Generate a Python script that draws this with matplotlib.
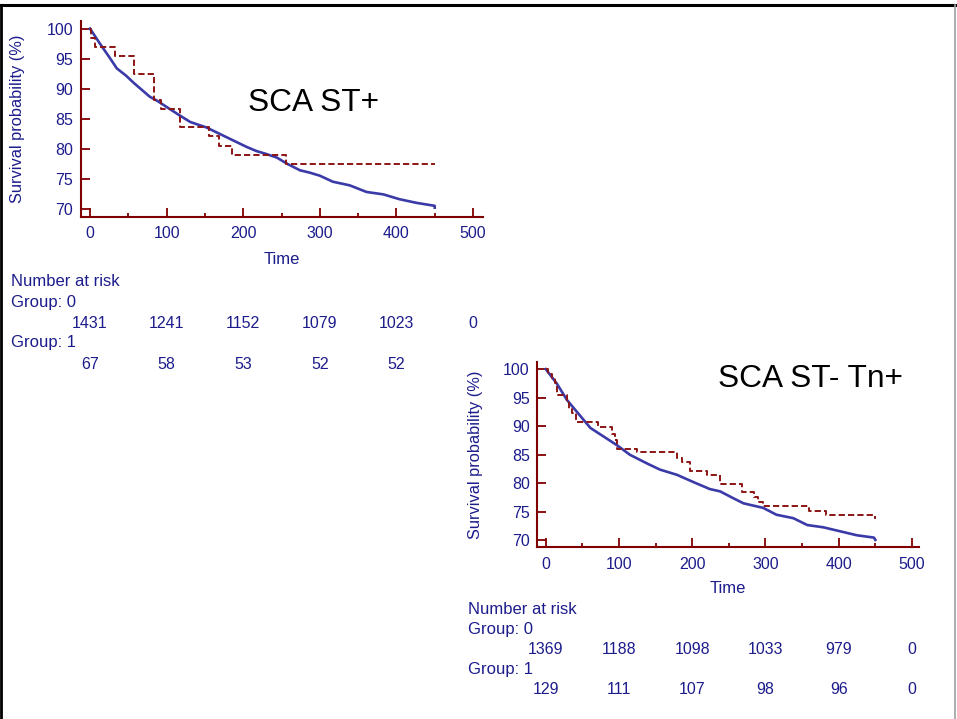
import matplotlib
matplotlib.use("Agg")
import matplotlib.pyplot as plt
import matplotlib.transforms as mtransforms
from matplotlib.lines import Line2D

plt.rcParams['font.family'] = ['Liberation Sans', 'DejaVu Sans']

# ---- SCA ST+ ----
st_title = "SCA ST+"
st_g0_t = [0, 13, 25, 35, 47, 57, 68, 78, 88, 100, 117, 131, 152, 165, 178, 191,
           204, 217, 230, 244, 257, 274, 287, 300, 317, 339, 361, 383, 404, 426, 450, 450]
st_g0_s = [100, 97.5, 95.3, 93.4, 92.2, 91.0, 89.8, 88.7, 88.0, 87.0, 85.6, 84.5, 83.6, 82.8, 82.0, 81.2,
           80.4, 79.7, 79.2, 78.6, 77.6, 76.5, 76.1, 75.6, 74.6, 74.0, 72.9, 72.5, 71.7, 71.1, 70.6, 70.3]
st_g1_t = [0, 2, 6.5, 33, 57, 83, 93, 117, 155, 168, 185, 256, 450]
st_g1_s = [100, 98.5, 97.0, 95.5, 92.5, 88.1, 86.6, 83.6, 82.1, 80.6, 79.1, 77.6, 77.6]
st_risk_t = [0, 100, 200, 300, 400, 500]
st_risk_g0 = [1431, 1241, 1152, 1079, 1023, 0]
st_risk_g1 = [67, 58, 53, 52, 52, None]

# ---- SCA ST- Tn+ ----
tn_title = "SCA ST- Tn+"
tn_g0_t = [0, 15, 29, 42, 61, 79, 97, 115, 138, 156, 179, 202, 224, 238, 256, 270,
           297, 315, 338, 357, 379, 402, 425, 448, 450]
tn_g0_s = [100, 97.5, 94.6, 92.6, 89.7, 88.2, 86.7, 85.0, 83.5, 82.4, 81.5, 80.2, 79.0, 78.6, 77.4, 76.5,
           75.7, 74.5, 73.9, 72.7, 72.3, 71.6, 70.9, 70.5, 70.1]
tn_g1_t = [0, 3, 8, 12, 16, 29, 32, 36, 41, 72, 91, 94, 97, 124, 179, 186, 197,
           220, 238, 268, 284, 290, 297, 360, 383, 449, 450]
tn_g1_s = [100, 99.2, 98.4, 97.6, 95.4, 94.0, 93.0, 92.3, 90.8, 89.9, 88.6, 87.6, 86.1, 85.5, 84.4, 83.8, 82.2,
           81.5, 79.9, 78.4, 77.6, 76.8, 76.1, 75.2, 74.5, 73.7, 73.7]
tn_risk_t = [0, 100, 200, 300, 400, 500]
tn_risk_g0 = [1369, 1188, 1098, 1033, 979, 0]
tn_risk_g1 = [129, 111, 107, 98, 96, 0]

W, H = 957, 719
AX_RED = '#800000'
NAVY = '#1c1c8c'
BLUE = '#3a3aa8'
DASH_RED = '#8b1414'

fig = plt.figure(figsize=(W / 100, H / 100), dpi=100)
fig.patch.set_facecolor('white')


def km_axes(rect, xlim, g0_t, g0_s, g1_t, g1_s, ylab_x):
    ax = fig.add_axes(rect)
    ax.plot(g0_t, g0_s, color=BLUE, lw=1.9, solid_joinstyle='round')
    ax.step(g1_t, g1_s, where='post', color=DASH_RED, lw=1.4, dashes=(3.2, 1.6))
    ax.set_xlim(*xlim)
    ax.set_ylim(68.8, 101.3)
    ax.set_xticks(range(0, 501, 100))
    ax.set_xticks(range(50, 500, 100), minor=True)
    ax.set_yticks(range(70, 101, 5))
    for s in ('top', 'right'):
        ax.spines[s].set_visible(False)
    for s in ('left', 'bottom'):
        ax.spines[s].set_color(AX_RED)
        ax.spines[s].set_linewidth(1.5)
    ax.tick_params(which='major', direction='in', length=6.5, width=1.3, color=AX_RED,
                   labelcolor=NAVY, labelsize=11.5)
    ax.tick_params(axis='x', which='major', pad=7)
    ax.tick_params(axis='y', which='major', pad=5.5)
    ax.tick_params(which='minor', direction='in', length=2.6, width=1.3, color=AX_RED)
    ax.set_xlabel('Time', color=NAVY, fontsize=12)
    ax.set_ylabel('Survival probability (%)', color=NAVY, fontsize=11.8)
    ax.xaxis.set_label_coords(0.5, -0.18)
    ax.yaxis.set_label_coords(ylab_x, 0.5)
    return ax


def risk_table(ax, x_left, ys, risk_t, g0, g1):
    tr = mtransforms.blended_transform_factory(ax.transData, fig.transFigure)
    fy = lambda py: 1 - py / H
    fig.text(x_left / W, fy(ys[0]), 'Number at risk', color=NAVY, fontsize=12, va='center')
    fig.text(x_left / W, fy(ys[1]), 'Group: 0', color=NAVY, fontsize=12, va='center')
    fig.text(x_left / W, fy(ys[3]), 'Group: 1', color=NAVY, fontsize=12, va='center')
    for t, n0, n1 in zip(risk_t, g0, g1):
        if n0 is not None:
            ax.text(t, fy(ys[2]), str(n0), transform=tr, color=NAVY, fontsize=11.5,
                    ha='center', va='center')
        if n1 is not None:
            ax.text(t, fy(ys[4]), str(n1), transform=tr, color=NAVY, fontsize=11.5,
                    ha='center', va='center')


ax1 = km_axes([81 / W, 1 - 216.7 / H, 402 / W, 196 / H], (-11.7, 513),
              st_g0_t, st_g0_s, st_g1_t, st_g1_s, -0.139)
ax2 = km_axes([537.3 / W, 1 - 547.3 / H, 382 / W, 185.6 / H], (-11.5, 510),
              tn_g0_t, tn_g0_s, tn_g1_t, tn_g1_s, -0.141)

fig.text(248 / W, 1 - 110.7 / H, st_title, fontsize=22.8, color='black', va='baseline')
fig.text(718 / W, 1 - 386.7 / H, tn_title, fontsize=22.8, color='black', va='baseline')

risk_table(ax1, 10.7, [281.7, 303, 323, 343, 365], st_risk_t, st_risk_g0, st_risk_g1)
risk_table(ax2, 468, [610, 629.5, 649.3, 669.7, 689.2], tn_risk_t, tn_risk_g0, tn_risk_g1)

# frame lines round the slide
fig.add_artist(Line2D([0, 1], [1 - 5 / H, 1 - 5 / H], color='black', lw=2.2, transform=fig.transFigure))
fig.add_artist(Line2D([1 / W, 1 / W], [0, 1 - 5 / H], color='black', lw=2, transform=fig.transFigure))
fig.add_artist(Line2D([955 / W, 955 / W], [0, 1 - 5 / H], color='#a0a0a0', lw=1.2, transform=fig.transFigure))

fig.savefig('out.png', dpi=100)
